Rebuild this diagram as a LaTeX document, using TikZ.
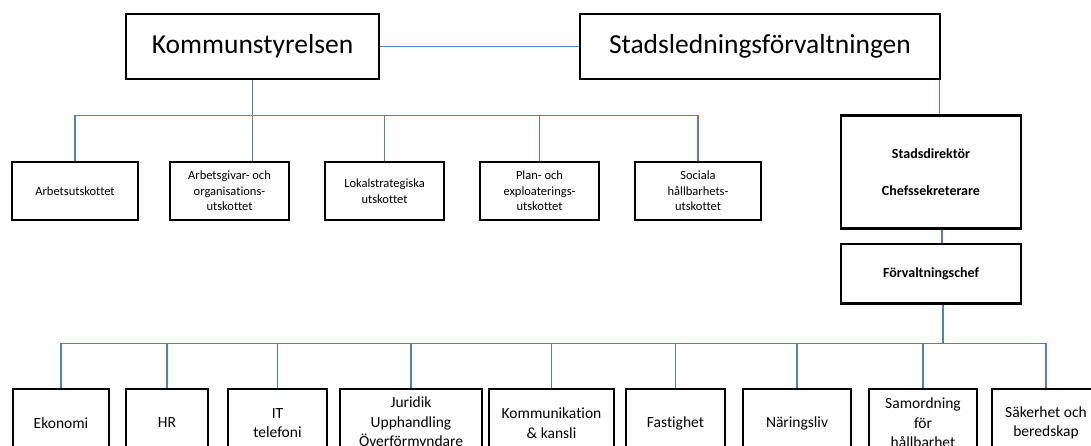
\documentclass[tikz,border=0pt]{standalone}
\usepackage{fontspec}
\setmainfont{Carlito}[Ligatures=NoCommon]
\usetikzlibrary{positioning}
\definecolor{wireblue}{HTML}{4F81BD}

\begin{document}
\begin{tikzpicture}[x=1pt,y=-1pt,
    orgbox/.style={draw,line width=2.8pt,align=center,inner sep=0pt},
    wire/.style={draw=wireblue,line width=1.1pt}]
  \useasboundingbox (0,0) rectangle (1091,445);
  \clip (0,0) rectangle (1091,445);
  \node[orgbox,minimum width=253,minimum height=65,font=\fontsize{27.5}{33}\selectfont] (ks) at (252.5,46.5) {Kommunstyrelsen};
  \node[orgbox,minimum width=360,minimum height=65,font=\fontsize{27.5}{33}\selectfont] (slf) at (760,46.5) {Stadsledningsförvaltningen};
  \foreach \x/\w/\t [count=\i] in {75/126/Arbetsutskottet,
      229.5/119/{Arbetsgivar- och\\organisations-\\utskottet},
      384.5/119/{Lokalstrategiska\\utskottet},
      539.5/119/{Plan- och\\exploaterings-\\utskottet},
      698/126/{Sociala\\hållbarhets-\\utskottet}}
    \node[orgbox,minimum width=\w,minimum height=58,font=\fontsize{12.5}{15.5}\selectfont] (u\i) at (\x,191) {\t};
  \node[orgbox,minimum width=180,minimum height=113.5,font=\fontsize{14}{18}\selectfont\bfseries] (sd) at (931,172) {Stadsdirektör\\[19pt]Chefssekreterare};
  \node[orgbox,minimum width=180,minimum height=59.5,font=\fontsize{14}{18}\selectfont\bfseries,below=12.5pt of sd] (fc) {Förvaltningschef};
  \foreach \x/\w/\t [count=\i] in {61/96/Ekonomi, 167/82/HR,
      277.5/99/{IT\\telefoni},
      411/142/{Juridik\\Upphandling\\Överförmyndare},
      551.5/125/{Kommunikation\\\& kansli},
      675.5/99/Fastighet, 797/108/Näringsliv,
      923/108/{Samordning\\för\\hållbarhet},
      1046/108/{Säkerhet och\\beredskap}}
    \node[orgbox,minimum width=\w,minimum height=68,font=\fontsize{15.5}{19.5}\selectfont] (d\i) at (\x,423) {\t};
  \draw[wire] (ks.east) -- (slf.west);
  \draw[wire] (ks.south) -- (ks.south |- u2.north);
  \coordinate (kbus) at (252.5,115.5);
  \foreach \i in {1,3,4,5} \draw[wire] (u\i.north) |- (kbus);
  \draw[wire] ([xshift=-2pt]slf.south east) -- ([xshift=-2pt]slf.south east |- sd.north);
  \draw[wire] ([xshift=11pt]sd.south) -- ([xshift=11pt]fc.north);
  \coordinate (dbus) at (943,343.5);
  \draw[wire] ([xshift=12pt]fc.south) -- (dbus);
  \foreach \i in {1,...,9} \draw[wire] (d\i.north) |- (dbus);
\end{tikzpicture}
\end{document}
